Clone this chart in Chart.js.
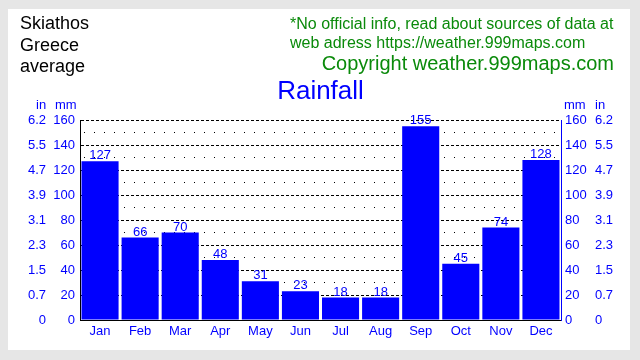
<!DOCTYPE html>
<html>
<head>
<meta charset="utf-8">
<script src="https://cdn.jsdelivr.net/npm/chart.js@4.4.0/dist/chart.umd.min.js"></script>
<style>
  html, body { margin: 0; padding: 0; }
  body { width: 640px; height: 360px; background: #e6e6e6; position: relative; overflow: hidden;
         font-family: "Liberation Sans", Arial, sans-serif; }
  #panel { position: absolute; left: 8px; top: 9px; width: 622px; height: 341px; background: #ffffff; }
  #c { position: absolute; left: 0; top: 0; }
  .t { position: absolute; white-space: nowrap; line-height: 1; }
  #place { left: 20px; top: 13px; font-size: 18px; line-height: 21.5px; color: #000; }
  #note { left: 290px; top: 14px; font-size: 16px; line-height: 19px; color: #0a8a0a; }
  #copy { right: 26px; top: 53px; font-size: 20px; color: #0a8a0a; }
  #title { left: 0; width: 641px; text-align: center; top: 77px; font-size: 26px; color: #0000ff; }
  .unit { top: 98px; font-size: 13px; color: #0000ff; }
</style>
</head>
<body>
<div id="panel"></div>
<canvas id="c" width="640" height="360"></canvas>
<div class="t" id="place">Skiathos<br>Greece<br>average</div>
<div class="t" id="note">*No official info, read about sources of data at<br>web adress https://weather.999maps.com</div>
<div class="t" id="copy">Copyright weather.999maps.com</div>
<div class="t" id="title">Rainfall</div>
<div class="t unit" style="left:36px">in</div>
<div class="t unit" style="left:55px">mm</div>
<div class="t unit" style="left:564px">mm</div>
<div class="t unit" style="left:595px">in</div>
<script>
const months = ['Jan','Feb','Mar','Apr','May','Jun','Jul','Aug','Sep','Oct','Nov','Dec'];
const rainMm = [127, 66, 70, 48, 31, 23, 18, 18, 155, 45, 74, 128];
const mmTicks = [0, 20, 40, 60, 80, 100, 120, 140, 160];
const inTicks = ['0', '0.7', '1.5', '2.3', '3.1', '3.9', '4.7', '5.5', '6.2'];

const BLUE = '#0000ff';
Chart.defaults.font.family = '"Liberation Sans", Arial, sans-serif';
Chart.defaults.font.size = 13;
Chart.defaults.color = BLUE;

function fixedWidth(w) { return function (s) { s.width = w; }; }
function setTicks(s) { s.ticks = mmTicks.map(v => ({ value: v })); }

const sideAxis = (position, weight, width, pad, labels, border) => ({
  type: 'linear', position, weight, min: 0, max: 160,
  afterBuildTicks: setTicks,
  afterFit: fixedWidth(width),
  grid: { drawOnChartArea: false, drawTicks: false },
  border: border ? { display: true, color: BLUE, width: 1 } : { display: false },
  ticks: { color: BLUE, padding: pad, autoSkip: false,
           callback: (v, i) => labels[i] }
});

const valueLabels = {
  id: 'valueLabels',
  afterDatasetsDraw(chart) {
    const ctx = chart.ctx;
    const meta = chart.getDatasetMeta(0);
    ctx.save();
    ctx.font = '13px "Liberation Sans", Arial, sans-serif';
    ctx.fillStyle = BLUE;
    ctx.textAlign = 'center';
    ctx.textBaseline = 'alphabetic';
    meta.data.forEach((bar, i) => {
      ctx.fillText(String(rainMm[i]), bar.x, bar.y - 2);
    });
    ctx.restore();
  }
};

new Chart(document.getElementById('c'), {
  type: 'bar',
  data: {
    labels: months,
    datasets: [{
      data: rainMm,
      backgroundColor: BLUE,
      borderWidth: 0,
      barPercentage: 0.925,
      categoryPercentage: 1.0
    }]
  },
  options: {
    responsive: false,
    animation: false,
    devicePixelRatio: 1,
    layout: { padding: { left: 8, right: 10, top: 120, bottom: 0 } },
    plugins: { legend: { display: false }, tooltip: { enabled: false }, title: { display: false } },
    scales: {
      x: {
        grid: { display: false, drawTicks: false },
        border: { display: true, color: '#000000', width: 1 },
        ticks: { color: BLUE, padding: 4 },
        afterFit: function (s) { s.height = 40; }
      },
      y: {
        type: 'linear', position: 'left', weight: 0, min: 0, max: 160,
        afterFit: fixedWidth(30),
        ticks: { stepSize: 10, color: BLUE, padding: 5, autoSkip: false,
                 callback: v => (v % 20 === 0 ? String(v) : '') },
        grid: { color: '#000000', lineWidth: 1, drawTicks: false },
        border: { display: true, color: '#000000', width: 1,
                  dash: ctx => (ctx.tick ? (ctx.tick.value % 20 === 0 ? [3, 2] : [1, 9]) : []),
                  dashOffset: ctx => (ctx.tick && ctx.tick.value % 20 !== 0 ? 7 : 0) }
      },
      yIn: sideAxis('left', 1, 42, 4, inTicks, false),
      yR: sideAxis('right', 0, 30, 4, mmTicks.map(String), true),
      yInR: sideAxis('right', 1, 39, 4, inTicks, false)
    }
  },
  plugins: [valueLabels]
});
</script>
</body>
</html>
